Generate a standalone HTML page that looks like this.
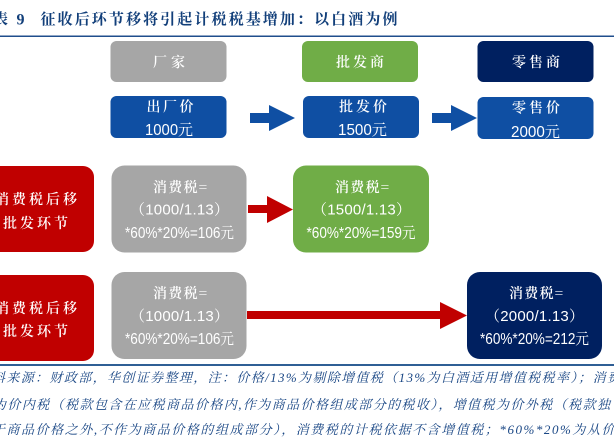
<!DOCTYPE html>
<html><head><meta charset="utf-8"><style>
html,body{margin:0;padding:0;background:#fff}
svg{display:block;position:absolute;left:0;top:0}
.b{font-family:"Noto Serif CJK SC",serif;fill:#fff;font-size:14px;font-weight:600;text-anchor:start}
.s{font-family:"Liberation Sans","Noto Serif CJK SC",sans-serif;fill:#fff;font-size:15.5px;text-anchor:start}
.f{font-family:"Liberation Serif","Noto Serif CJK SC",serif;font-style:italic;fill:#1a4785;font-size:13px}
</style></head><body>
<svg width="614" height="439" viewBox="0 0 614 439" xmlns="http://www.w3.org/2000/svg">
<text x="-7" y="24" font-family="Noto Serif CJK SC,serif" font-size="15" fill="#123f7a" font-weight="700">表</text>
<text x="16.500" y="24.500" font-family="Liberation Serif,serif" font-size="16" fill="#123f7a" font-weight="700">9</text>
<text x="40.500" y="24" font-family="Noto Serif CJK SC,serif" font-size="15" fill="#123f7a" font-weight="700" textLength="357" lengthAdjust="spacing">征收后环节移将引起计税税基增加：以白酒为例</text>
<rect x="0" y="35.500" width="614" height="1.500" fill="#1f4e8c"/>

<rect x="110.500" y="41" width="116" height="41" rx="6" fill="#a6a6a6"/>
<rect x="302" y="41" width="116" height="41" rx="6" fill="#70ad47"/>
<rect x="477.500" y="41" width="116" height="41" rx="6" fill="#002060"/>
<text class="b" x="153" y="67" textLength="32">厂家</text>
<text class="b" x="336" y="67" textLength="48">批发商</text>
<text class="b" x="512" y="67" textLength="48">零售商</text>

<rect x="110.500" y="96" width="116" height="42" rx="6" fill="#0f4fa3"/>
<rect x="303" y="96" width="116" height="42" rx="6" fill="#0f4fa3"/>
<rect x="477.500" y="97" width="116" height="42" rx="6" fill="#0f4fa3"/>
<text class="b" x="146.500" y="111.500" textLength="47">出厂价</text>
<text class="s" x="145" y="135" textLength="48" lengthAdjust="spacingAndGlyphs">1000元</text>
<text class="b" x="339" y="111.500" textLength="48">批发价</text>
<text class="s" x="338" y="135" textLength="49" lengthAdjust="spacingAndGlyphs">1500元</text>
<text class="b" x="512" y="112.500" textLength="48">零售价</text>
<text class="s" x="511" y="137" textLength="49" lengthAdjust="spacingAndGlyphs">2000元</text>

<polygon points="250,113 269,113 269,105 295,118 269,131 269,123 250,123" fill="#0f4fa3"/>
<polygon points="432,113 451,113 451,105 477,118 451,131 451,123 432,123" fill="#0f4fa3"/>

<rect x="-12" y="166" width="106" height="86" rx="11" fill="#c00000"/>
<rect x="-12" y="275" width="106" height="86" rx="11" fill="#c00000"/>
<text class="b" x="-5" y="204" textLength="82">消费税后移</text>
<text class="b" x="3" y="228" textLength="65">批发环节</text>
<text class="b" x="-5" y="313" textLength="82">消费税后移</text>
<text class="b" x="3" y="336" textLength="65">批发环节</text>

<rect x="111.500" y="165.500" width="135" height="87" rx="13" fill="#a6a6a6"/>
<rect x="293" y="165.500" width="136" height="87" rx="13" fill="#70ad47"/>
<rect x="111.500" y="272" width="135" height="87" rx="13" fill="#a6a6a6"/>
<rect x="467" y="272" width="135" height="87" rx="13" fill="#002060"/>

<text class="b" x="153" y="192" textLength="54">消费税=</text>
<text class="s" style="font-size:15px" x="130" y="214.500" textLength="99">（1000/1.13）</text>
<text class="s" x="125" y="238" textLength="109" lengthAdjust="spacingAndGlyphs">*60%*20%=106元</text>
<text class="b" x="335" y="192" textLength="54">消费税=</text>
<text class="s" style="font-size:15px" x="312" y="214.500" textLength="99">（1500/1.13）</text>
<text class="s" x="306.500" y="238" textLength="109" lengthAdjust="spacingAndGlyphs">*60%*20%=159元</text>
<text class="b" x="153" y="298" textLength="54">消费税=</text>
<text class="s" style="font-size:15px" x="130" y="321" textLength="99">（1000/1.13）</text>
<text class="s" x="125" y="344" textLength="109" lengthAdjust="spacingAndGlyphs">*60%*20%=106元</text>
<text class="b" x="509" y="298" textLength="54">消费税=</text>
<text class="s" style="font-size:15px" x="485" y="321" textLength="99">（2000/1.13）</text>
<text class="s" x="480" y="344" textLength="109" lengthAdjust="spacingAndGlyphs">*60%*20%=212元</text>

<polygon points="248,205 267,205 267,196 293,209.500 267,223 267,213 248,213" fill="#c00000"/>
<polygon points="247,311 440,311 440,302 467,315.500 440,329 440,319 247,319" fill="#c00000"/>

<rect x="0" y="364" width="614" height="2" fill="#2f5f95"/>
<text class="f" x="-8" y="382" textLength="628" lengthAdjust="spacing">料来源：财政部，华创证券整理，注：价格/13%为剔除增值税（13%为白酒适用增值税税率）；消费</text>
<text class="f" x="-7" y="409" textLength="617" lengthAdjust="spacing">为价内税（税款包含在应税商品价格内,作为商品价格组成部分的税收），增值税为价外税（税款独</text>
<text class="f" x="-8" y="434" textLength="637" lengthAdjust="spacing">于商品价格之外,不作为商品价格的组成部分），消费税的计税依据不含增值税；*60%*20%为从价税</text>
</svg>
</body></html>
